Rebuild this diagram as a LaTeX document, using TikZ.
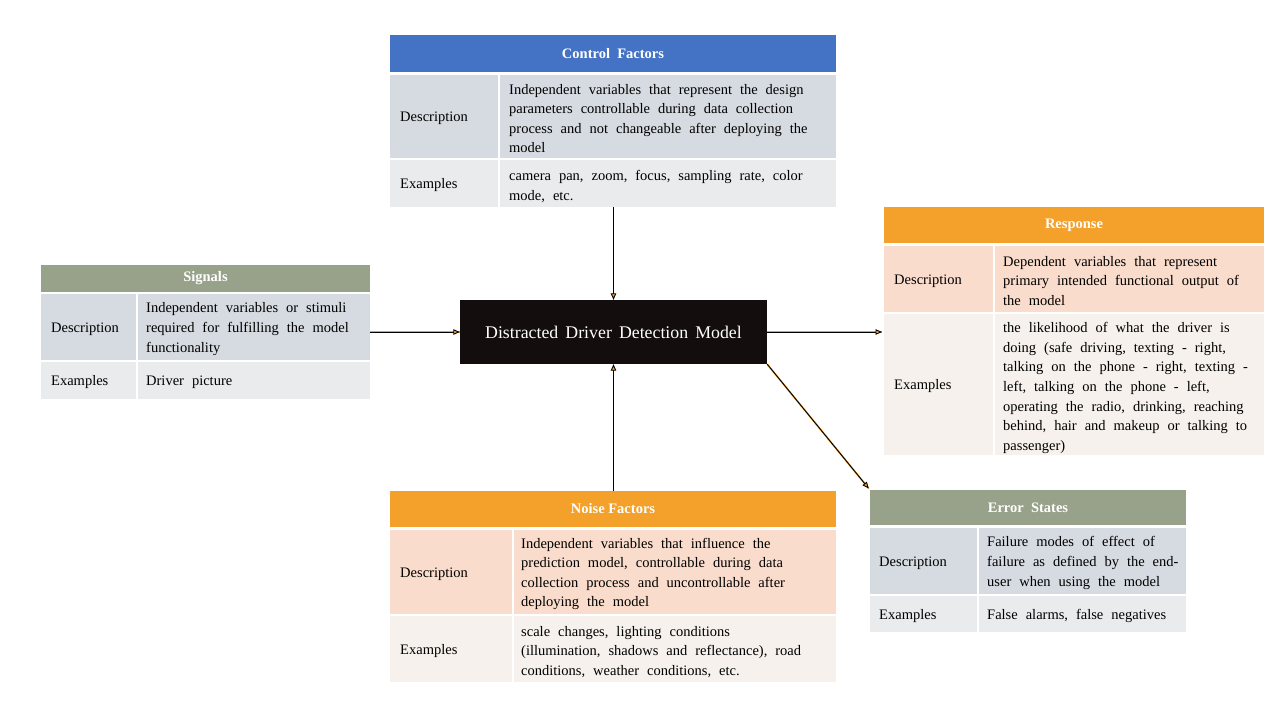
\documentclass[tikz,border=0pt]{standalone}
\usepackage{fontspec}
\setmainfont{Liberation Serif}
\usetikzlibrary{arrows.meta}
\definecolor{hblue}{HTML}{4472C4}
\definecolor{horange}{HTML}{F4A12B}
\definecolor{hgreen}{HTML}{98A18A}
\definecolor{gdesc}{HTML}{D6DBE1}
\definecolor{gex}{HTML}{E9EBED}
\definecolor{pdesc}{HTML}{F9DCCB}
\definecolor{pex}{HTML}{F6F1EC}
\definecolor{mblack}{HTML}{140D0D}
\definecolor{aorange}{HTML}{F0A030}
\newcommand\bodyfnt{\fontsize{14.5}{19.6}\selectfont\spaceskip=0.55em plus 0.2em minus 0.1em\relax}
\newcommand\modelfnt{\fontsize{17.8}{20}\selectfont\spaceskip=0.4em plus 0.1em\relax}
\tikzset{
  x=1pt, y=-1pt,
  cellbox/.style={anchor=north west, inner sep=0pt, outer sep=0pt},
  hdr/.style={anchor=north west, inner sep=0pt, outer sep=0pt, text=white,
    font=\bfseries\fontsize{14.5}{17}\selectfont},
  txt/.style={anchor=west, inner sep=0pt, align=left, font=\bodyfnt, yshift=-2pt},
  model/.style={fill=mblack, text=white, inner sep=0pt, minimum width=307pt,
    minimum height=64pt, font=\modelfnt},
  conn/.style={draw=black, line width=0.9pt,
    -{Triangle[length=6.5pt,width=5.5pt,fill=aorange]},
    preaction={draw=aorange, line width=1.7pt, -}},
}
\begin{document}
\begin{tikzpicture}
\useasboundingbox[fill=white] (0,0) rectangle (1280,720);

% ---------------- Control Factors
\node[hdr, fill=hblue, minimum width=446pt, minimum height=37pt] (ch) at (390,35) {Control\ \ Factors};
\node[cellbox, fill=gdesc, minimum width=108pt, minimum height=83pt] (cdl) at (390,75) {};
\node[cellbox, fill=gdesc, minimum width=336pt, minimum height=83pt] (cdt) at (500,75) {};
\node[cellbox, fill=gex, minimum width=108pt, minimum height=47pt] (cel) at (390,160) {};
\node[cellbox, fill=gex, minimum width=336pt, minimum height=47pt] (cet) at (500,160) {};
\node[txt] (cdlt) at (400,116.5) {Description};
\node[txt] (cdtt) at (509,116.5) {Independent variables that represent the design\\parameters controllable during data collection\\process and not changeable after deploying the\\model};
\node[txt] (celt) at (400,183.5) {Examples};
\node[txt] (cett) at (509,184.5) {camera pan, zoom, focus, sampling rate, color\\mode, etc.};

% ---------------- Signals
\node[hdr, fill=hgreen, minimum width=329pt, minimum height=27pt] (sh) at (41,265) {Signals};
\node[cellbox, fill=gdesc, minimum width=95pt, minimum height=66pt] (sdl) at (41,294) {};
\node[cellbox, fill=gdesc, minimum width=232pt, minimum height=66pt] (sdt) at (138,294) {};
\node[cellbox, fill=gex, minimum width=95pt, minimum height=37pt] (sel) at (41,362) {};
\node[cellbox, fill=gex, minimum width=232pt, minimum height=37pt] (set) at (138,362) {};
\node[txt] (sdlt) at (51,327) {Description};
\node[txt] (sdtt) at (146,327) {Independent variables or stimuli\\required for fulfilling the model\\functionality};
\node[txt] (selt) at (51,380.5) {Examples};
\node[txt] (sett) at (146,380.5) {Driver picture};

% ---------------- Response
\node[hdr, fill=horange, minimum width=380pt, minimum height=36pt] (rh) at (884,207) {Response};
\node[cellbox, fill=pdesc, minimum width=109pt, minimum height=66pt] (rdl) at (884,246) {};
\node[cellbox, fill=pdesc, minimum width=269pt, minimum height=66pt] (rdt) at (995,246) {};
\node[cellbox, fill=pex, minimum width=109pt, minimum height=141pt] (rel) at (884,314) {};
\node[cellbox, fill=pex, minimum width=269pt, minimum height=141pt] (ret) at (995,314) {};
\node[txt] (rdlt) at (894,279) {Description};
\node[txt] (rdtt) at (1003,279) {Dependent variables that represent\\primary intended functional output of\\the model};
\node[txt] (relt) at (894,384.5) {Examples};
\node[txt] (rett) at (1003,386) {the likelihood of what the driver is\\doing (safe driving, texting - right,\\talking on the phone - right, texting -\\left, talking on the phone - left,\\operating the radio, drinking, reaching\\behind, hair and makeup or talking to\\passenger)};

% ---------------- Error States
\node[hdr, fill=hgreen, minimum width=316pt, minimum height=35pt] (eh) at (870,490) {Error\ \ States};
\node[cellbox, fill=gdesc, minimum width=107pt, minimum height=66pt] (edl) at (870,528) {};
\node[cellbox, fill=gdesc, minimum width=207pt, minimum height=66pt] (edt) at (979,528) {};
\node[cellbox, fill=gex, minimum width=107pt, minimum height=36pt] (eel) at (870,596) {};
\node[cellbox, fill=gex, minimum width=207pt, minimum height=36pt] (eet) at (979,596) {};
\node[txt] (edlt) at (879,561) {Description};
\node[txt] (edtt) at (987,561) {Failure modes of effect of\\failure as defined by the end-\\user when using the model};
\node[txt] (eelt) at (879,614) {Examples};
\node[txt] (eett) at (987,614) {False alarms, false negatives};

% ---------------- Noise Factors
\node[hdr, fill=horange, minimum width=446pt, minimum height=36pt] (nh) at (390,491) {Noise Factors};
\node[cellbox, fill=pdesc, minimum width=122pt, minimum height=84pt] (ndl) at (390,530) {};
\node[cellbox, fill=pdesc, minimum width=322pt, minimum height=84pt] (ndt) at (514,530) {};
\node[cellbox, fill=pex, minimum width=122pt, minimum height=66pt] (nel) at (390,616) {};
\node[cellbox, fill=pex, minimum width=322pt, minimum height=66pt] (net) at (514,616) {};
\node[txt] (ndlt) at (400,572) {Description};
\node[txt] (ndtt) at (521,572) {Independent variables that influence the\\prediction model, controllable during data\\collection process and uncontrollable after\\deploying the model};
\node[txt] (nelt) at (400,649) {Examples};
\node[txt] (nett) at (521,650) {scale changes, lighting conditions\\(illumination, shadows and reflectance), road\\conditions, weather conditions, etc.};

% ---------------- Model
\node[model] (model) at (613.5,332) {Distracted Driver Detection Model};

% ---------------- Connectors
\draw[conn] (model.north |- cet.south) -- (model.north);
\draw[conn] (sdt.east |- model.west) -- (model.west);
\draw[conn, shorten >=2pt] (model.east) -- (rel.west |- model.east);
\draw[conn, shorten >=2pt] (model.south east) -- (eh.north west);
\draw[conn] (model.south |- nh.north) -- (model.south);
\end{tikzpicture}
\end{document}
